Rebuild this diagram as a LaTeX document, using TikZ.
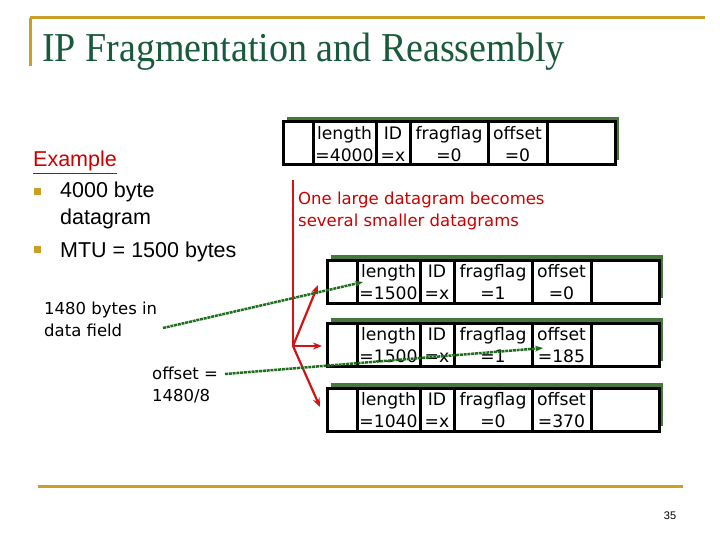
\documentclass[tikz,border=0pt]{standalone}
\usepackage{fontspec}
\setmainfont{Liberation Serif}
\newfontfamily\arialf{Liberation Sans}
\newfontfamily\comicf{DejaVu Sans}
\usetikzlibrary{arrows.meta,calc}
\definecolor{gold}{RGB}{200,160,40}
\definecolor{titlegreen}{RGB}{25,90,60}
\definecolor{exred}{RGB}{204,0,0}
\definecolor{arrowred}{RGB}{210,20,20}
\definecolor{dotgreen}{RGB}{30,110,30}
\definecolor{shadowgreen}{RGB}{70,120,60}
\tikzset{
  goldline/.style={gold, line width=3pt},
  boxline/.style={black, line width=3pt},
  celltxt/.style={font=\comicf\fontsize{17.2}{21.5}\selectfont, align=center, inner sep=0pt},
  comictxt/.style={font=\comicf\fontsize{16.5}{22}\selectfont, align=left, inner sep=0pt, anchor=base west},
  arialtxt/.style={font=\arialf\fontsize{21.5}{27}\selectfont, inner sep=0pt, anchor=base west},
  bullet/.style={fill=gold, minimum size=7pt, inner sep=0pt},
  redarrow/.style={arrowred, line width=2.2pt, -{Stealth[length=9pt,width=7pt]}},
  greenarrow/.style={dotgreen, line width=2.5pt, dash pattern=on 3pt off 0.8pt, -{Stealth[length=8pt,width=6pt]}},
  pics/dgram/.style n args={4}{code={
    \fill[shadowgreen] (4,-5) rectangle (336,38);
    \draw[boxline, fill=white] (0,0) rectangle (332,43);
    \foreach \xx in {30,93,127,205,264} \draw[boxline] (\xx,0) -- (\xx,43);
    \node[celltxt] (-len) at (61.5,22) {length\\#1};
    \node[celltxt] (-id) at (110,22) {ID\\#2};
    \node[celltxt] (-ff) at (166,22) {fragflag\\#3};
    \node[celltxt] (-off) at (234.5,22) {offset\\#4};
  }}
}
\begin{document}
\begin{tikzpicture}[x=1pt,y=-1pt]
\useasboundingbox[fill=white] (0,0) rectangle (720,540);
% title frame
\draw[goldline] (30,18) -- (705,18);
\draw[goldline] (30,18) -- (30,66);
\node[anchor=base west, inner sep=0pt, text=titlegreen, font=\fontsize{38}{44}\selectfont] (title) at (42,62) {\scalebox{1}[1.08]{IP Fragmentation and Reassembly}};
\draw[goldline] (38,486) -- (683,486);
\node[font=\arialf\fontsize{11}{13}\selectfont, inner sep=0pt] (page) at (670,516) {35};

% left text
\node[arialtxt, text=exred] (example) at (33,167) {\underline{Example}};
\node[bullet] (b1) at (37.5,191.5) {};
\node[arialtxt] (t1) at (60,198) {4000 byte};
\node[arialtxt] (t2) at (60,225) {datagram};
\node[bullet] (b2) at (37.5,249.5) {};
\node[arialtxt] (t3) at (60,257) {MTU = 1500 bytes};

\node[comictxt] (bytes) at (44,336) {1480 bytes in\\data field};
\node[comictxt] (offs) at (152,401) {offset =\\1480/8};

\node[comictxt, text=exred] (one) at (298,226) {One large datagram becomes\\several smaller datagrams};

% datagrams
\pic (big) at (283,122) {dgram={=4000}{=x}{=0}{=0}};
\pic (f1) at (327,260) {dgram={=1500}{=x}{=1}{=0}};
\pic (f2) at (327,323) {dgram={=1500}{=x}{=1}{=185}};
\pic (f3) at (327,388) {dgram={=1040}{=x}{=0}{=370}};

% red split
\coordinate (rtop) at (293,180);
\coordinate (split) at (293,346);
\coordinate (e1) at (318,285);
\coordinate (e2) at (322,346);
\coordinate (e3) at (320,407);
\draw[arrowred, line width=2.2pt] (rtop) -- (split);
\draw[redarrow] (split) -- (e1);
\draw[redarrow] (split) -- (e2);
\draw[redarrow] (split) -- (e3);

% green arrows
\coordinate (g1s) at (163,328);
\coordinate (g1e) at (363,282);
\coordinate (g2s) at (225,374);
\coordinate (g2e) at (543,348);
\draw[greenarrow] (g1s) -- (g1e);
\draw[greenarrow] (g2s) -- (g2e);
\end{tikzpicture}
\end{document}
